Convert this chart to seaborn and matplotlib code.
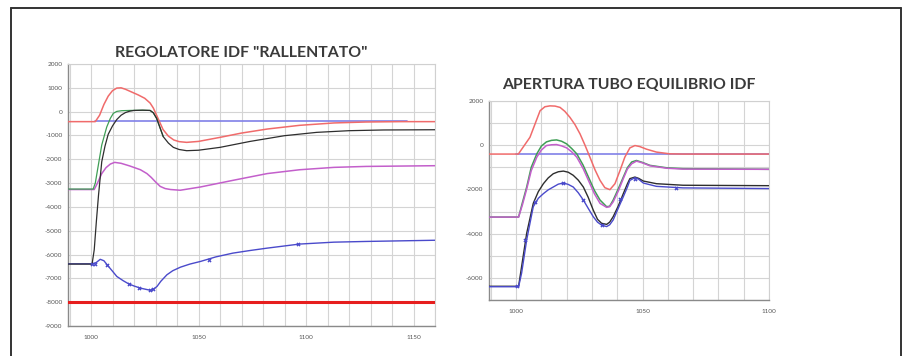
import matplotlib
matplotlib.use("Agg")
import matplotlib.pyplot as plt
from matplotlib.lines import Line2D
from matplotlib.ticker import MultipleLocator
import seaborn as sns

# ---------------- data: left chart "REGOLATORE IDF RALLENTATO" ----------------
L_red_x = [989, 1002, 1004, 1006, 1008, 1010, 1012, 1014, 1016, 1019, 1022, 1025, 1027.5, 1029, 1031,
           1033.5, 1036, 1038.5, 1041, 1044.5, 1050, 1060, 1070, 1082, 1097, 1113, 1128, 1144, 1160]
L_red_y = [-420, -420, -150, 300, 650, 880, 990, 1000, 940, 820, 700, 560, 360, 150, -250,
           -750, -1030, -1190, -1260, -1290, -1250, -1080, -900, -730, -575, -475, -435, -420, -420]

L_black_x = [989, 1000.5, 1001.5, 1002.5, 1003.5, 1005, 1006.5, 1008, 1010, 1012, 1014, 1016, 1018, 1020,
             1024, 1027.5, 1029, 1030.5, 1032, 1033.6, 1036, 1038.3, 1041, 1044.5, 1050, 1060, 1074, 1090,
             1105, 1120, 1136, 1160]
L_black_y = [-6400, -6400, -5800, -4600, -3500, -2100, -1450, -950, -600, -330, -150, -40, 20, 50,
             60, 50, -50, -280, -650, -1050, -1320, -1500, -1590, -1640, -1620, -1500, -1250, -1010,
             -870, -800, -770, -760]

L_green_x = [989, 1001, 1002, 1003.4, 1005, 1007.3, 1009, 1010.4, 1012, 1014.3, 1018, 1024, 1027.5,
             1029, 1030.5, 1032, 1033.6]
L_green_y = [-3250, -3250, -3000, -2250, -1400, -650, -280, -70, 10, 40, 50, 60, 50,
             -50, -280, -650, -1050]

L_mag_x = [989, 1001.5, 1003, 1005, 1007, 1009, 1011, 1014, 1018, 1023, 1026, 1028, 1030, 1032.2, 1034.5,
           1037, 1041.5, 1050.8, 1066, 1082, 1097, 1113, 1128, 1160]
L_mag_y = [-3270, -3270, -3000, -2600, -2350, -2200, -2130, -2170, -2280, -2440, -2600, -2760, -2950,
           -3140, -3230, -3270, -3300, -3165, -2885, -2600, -2440, -2340, -2300, -2270]

L_blue_x = [989, 1001, 1002.5, 1004.3, 1006, 1007.5, 1010, 1012, 1015, 1017.5, 1020, 1023, 1025.5, 1027.6,
            1029, 1030.7, 1032.5, 1035.3, 1038, 1041.6, 1046, 1050.9, 1058, 1066, 1074, 1082, 1097, 1113,
            1128, 1160]
L_blue_y = [-6390, -6390, -6330, -6200, -6260, -6430, -6700, -6920, -7100, -7230, -7320, -7410, -7460,
            -7500, -7460, -7340, -7120, -6850, -6680, -6530, -6400, -6290, -6100, -5940, -5830, -5730,
            -5560, -5480, -5450, -5400]
L_blue_mk_x = [1000.5, 1001.8, 1007.5, 1017.5, 1022.2, 1027.6, 1029, 1054.7, 1096.5]
L_blue_mk_y = [-6390, -6390, -6430, -7230, -7390, -7500, -7460, -6220, -5560]

L_ref_x = [1002, 1147]
L_ref_y = [-400, -400]
L_limit_x = [989, 1160]
L_limit_y = [-8000, -8000]

# ---------------- data: right chart "APERTURA TUBO EQUILIBRIO IDF" ----------------
R_red_x = [989, 1000.9, 1005.5, 1007.5, 1009.5, 1011.4, 1013.4, 1015.4, 1017.4, 1019.3, 1021.3, 1023.3,
           1025.3, 1027.2, 1029.2, 1031.2, 1033.2, 1035.1, 1037.1, 1039.1, 1041.1, 1043, 1045, 1047,
           1048.9, 1051.6, 1055.5, 1060.8, 1066, 1100]
R_red_y = [-400, -400, 360, 960, 1560, 1740, 1780, 1770, 1710, 1530, 1260, 930,
           510, 15, -540, -1110, -1590, -1920, -2010, -1740, -1140, -540, -120, -15,
           -60, -180, -310, -390, -400, -400]

R_green_x = [989, 1001, 1002.5, 1004.2, 1006, 1008.2, 1010, 1012, 1014, 1016, 1018, 1020, 1022, 1024,
             1026.5, 1029.2, 1031, 1033.2, 1035.8, 1037, 1038.4, 1040.5, 1042.4, 1044, 1045.7, 1047.6,
             1050, 1052.9, 1059.5, 1066, 1100]
R_green_y = [-3250, -3250, -2600, -1890, -1000, -390, -40, 150, 220, 240, 180, 60, -150, -390,
             -900, -1590, -2050, -2480, -2780, -2760, -2480, -1950, -1440, -1020, -760, -690,
             -780, -910, -1020, -1060, -1090]

R_mag_x = [989, 1001, 1002.5, 1004.2, 1006, 1008.2, 1010, 1012, 1014, 1016, 1018, 1020, 1022, 1024,
           1026.5, 1029.2, 1031, 1033.2, 1035.8, 1037, 1038.4, 1040.5, 1042.4, 1044, 1045.7, 1047.6,
           1050, 1052.9, 1059.5, 1066, 1100]
R_mag_y = [-3250, -3250, -2700, -1980, -1150, -540, -220, -15, 20, 30, -30, -120, -300, -540,
           -1050, -1740, -2200, -2630, -2810, -2780, -2560, -2050, -1510, -1080, -840, -720,
           -800, -930, -1040, -1080, -1090]

R_black_x = [989, 1001, 1002.2, 1004.2, 1006.8, 1008.8, 1010.8, 1012.7, 1014.7, 1016.7, 1018.7, 1020.6,
             1022.6, 1024.6, 1026.6, 1028.5, 1030.5, 1032.2, 1033.8, 1035.8, 1037, 1038.4, 1040.4,
             1042.4, 1044, 1045, 1047, 1048.5, 1050.3, 1055.5, 1066, 1100]
R_black_y = [-6380, -6380, -5480, -3980, -2630, -2100, -1740, -1480, -1290, -1200, -1170, -1220,
             -1360, -1580, -1890, -2350, -2930, -3350, -3530, -3580, -3480, -3230, -2750,
             -2190, -1750, -1510, -1440, -1500, -1620, -1740, -1810, -1830]

R_blue_x = [989, 1001, 1002.2, 1004.2, 1006.8, 1008.8, 1010.8, 1012.7, 1014.7, 1016.7, 1018.7, 1020.6,
            1022.6, 1024.6, 1026.6, 1028.5, 1030.5, 1032.2, 1033.8, 1035.8, 1037, 1038.4, 1040.4,
            1042.4, 1044, 1045, 1047, 1048.5, 1050.3, 1055.5, 1066, 1100]
R_blue_y = [-6400, -6400, -5780, -4280, -2780, -2400, -2190, -2020, -1890, -1760, -1710, -1770,
            -1890, -2150, -2480, -2850, -3230, -3480, -3610, -3680, -3600, -3380, -2850,
            -2330, -1900, -1590, -1470, -1540, -1710, -1860, -1930, -1960]
R_blue_mk_x = [1000.3, 1003.6, 1007.5, 1018.7, 1026.6, 1033.8, 1041, 1047, 1063.4]
R_blue_mk_y = [-6380, -4280, -2560, -1710, -2480, -3610, -2410, -1510, -1920]

R_ref_x = [1000, 1100]
R_ref_y = [-400, -400]

TITLE_L = 'REGOLATORE IDF "RALLENTATO"'
TITLE_R = "APERTURA TUBO EQUILIBRIO IDF"

# ---------------- styles ----------------
C_RED = "#f06b6b"
C_GREEN = "#3f9e55"
C_BLACK = "#2e2e2e"
C_MAG = "#c35fcb"
C_BLUE = "#4a4acb"
C_REF = "#8080e8"
C_LIMIT = "#e61e1e"

sns.set_style("white")
plt.rcParams["font.family"] = ["Lato", "DejaVu Sans"]
plt.rcParams["axes.unicode_minus"] = False

fig = plt.figure(figsize=(9.05, 3.56), dpi=100)

# outer frame (open at bottom)
frame_kw = dict(color="#333333", lw=1.4, transform=fig.transFigure)
fx0, fx1, fy = 11 / 905, 901 / 905, 1 - 8 / 356
fig.add_artist(Line2D([fx0, fx0], [0, fy], **frame_kw))
fig.add_artist(Line2D([fx1, fx1], [0, fy], **frame_kw))
fig.add_artist(Line2D([fx0, fx1], [fy, fy], **frame_kw))

axL = fig.add_axes([68 / 905, 1 - 326 / 356, 367 / 905, 262 / 356])
axR = fig.add_axes([489 / 905, 1 - 300 / 356, 280 / 905, 199 / 356])


def style_axes(ax):
    ax.grid(True, which="both", color="#d4d4d4", lw=0.8)
    ax.set_axisbelow(True)
    for s in ["left", "bottom"]:
        ax.spines[s].set_color("#8a8a8a")
        ax.spines[s].set_linewidth(1.0)
    for s in ["top", "right"]:
        ax.spines[s].set_color("#d0d0d0")
        ax.spines[s].set_linewidth(0.8)
    ax.tick_params(axis="both", which="both", direction="out", length=2.5, width=0.7,
                   color="#777777", labelsize=4.6, labelcolor="#555555", pad=1.5)
    ax.set_xlabel("")
    ax.set_ylabel("")


def line(ax, x, y, c, lw=1.0, z=2):
    sns.lineplot(x=x, y=y, ax=ax, color=c, lw=lw, zorder=z, sort=False, estimator=None)


# ---- left chart ----
line(axL, L_limit_x, L_limit_y, C_LIMIT, lw=2.2, z=3)
line(axL, L_ref_x, L_ref_y, C_REF, lw=1.2, z=2)
line(axL, L_red_x, L_red_y, C_RED, lw=1.1, z=3)
line(axL, L_mag_x, L_mag_y, C_MAG, lw=1.1, z=3)
line(axL, L_green_x, L_green_y, C_GREEN, lw=0.9, z=3)
line(axL, L_black_x, L_black_y, C_BLACK, lw=0.9, z=4)
line(axL, L_blue_x, L_blue_y, C_BLUE, lw=1.0, z=3)
sns.scatterplot(x=L_blue_mk_x, y=L_blue_mk_y, ax=axL, color=C_BLUE, marker="X", s=9,
                linewidth=0, zorder=5)
axL.set_xlim(989.3, 1160)
axL.set_ylim(-9000, 2000)
axL.xaxis.set_major_locator(MultipleLocator(50))
axL.xaxis.set_minor_locator(MultipleLocator(10))
axL.yaxis.set_major_locator(MultipleLocator(1000))
style_axes(axL)
axL.tick_params(axis="x", which="major", pad=4)
fig.text(241.5 / 905, 1 - 53 / 356, TITLE_L, ha="center", va="center", fontsize=11.4,
         fontweight="bold", color="#3a3a3a")

# ---- right chart ----
line(axR, R_ref_x, R_ref_y, C_REF, lw=1.2, z=2)
line(axR, R_red_x, R_red_y, C_RED, lw=1.1, z=3)
line(axR, R_green_x, R_green_y, C_GREEN, lw=1.1, z=3)
line(axR, R_mag_x, R_mag_y, C_MAG, lw=1.1, z=3)
line(axR, R_black_x, R_black_y, C_BLACK, lw=1.0, z=3)
line(axR, R_blue_x, R_blue_y, C_BLUE, lw=1.0, z=4)
sns.scatterplot(x=R_blue_mk_x, y=R_blue_mk_y, ax=axR, color=C_BLUE, marker="X", s=9,
                linewidth=0, zorder=5)
axR.set_xlim(989.3, 1100)
axR.set_ylim(-7000, 2000)
axR.xaxis.set_major_locator(MultipleLocator(50))
axR.xaxis.set_minor_locator(MultipleLocator(10))
axR.yaxis.set_major_locator(MultipleLocator(2000))
axR.yaxis.set_minor_locator(MultipleLocator(1000))
style_axes(axR)
axR.tick_params(axis="x", which="major", pad=4)
fig.text(628.5 / 905, 1 - 85 / 356, TITLE_R, ha="center", va="center", fontsize=11.4,
         fontweight="bold", color="#3a3a3a")

fig.savefig("out.png", dpi=100)
